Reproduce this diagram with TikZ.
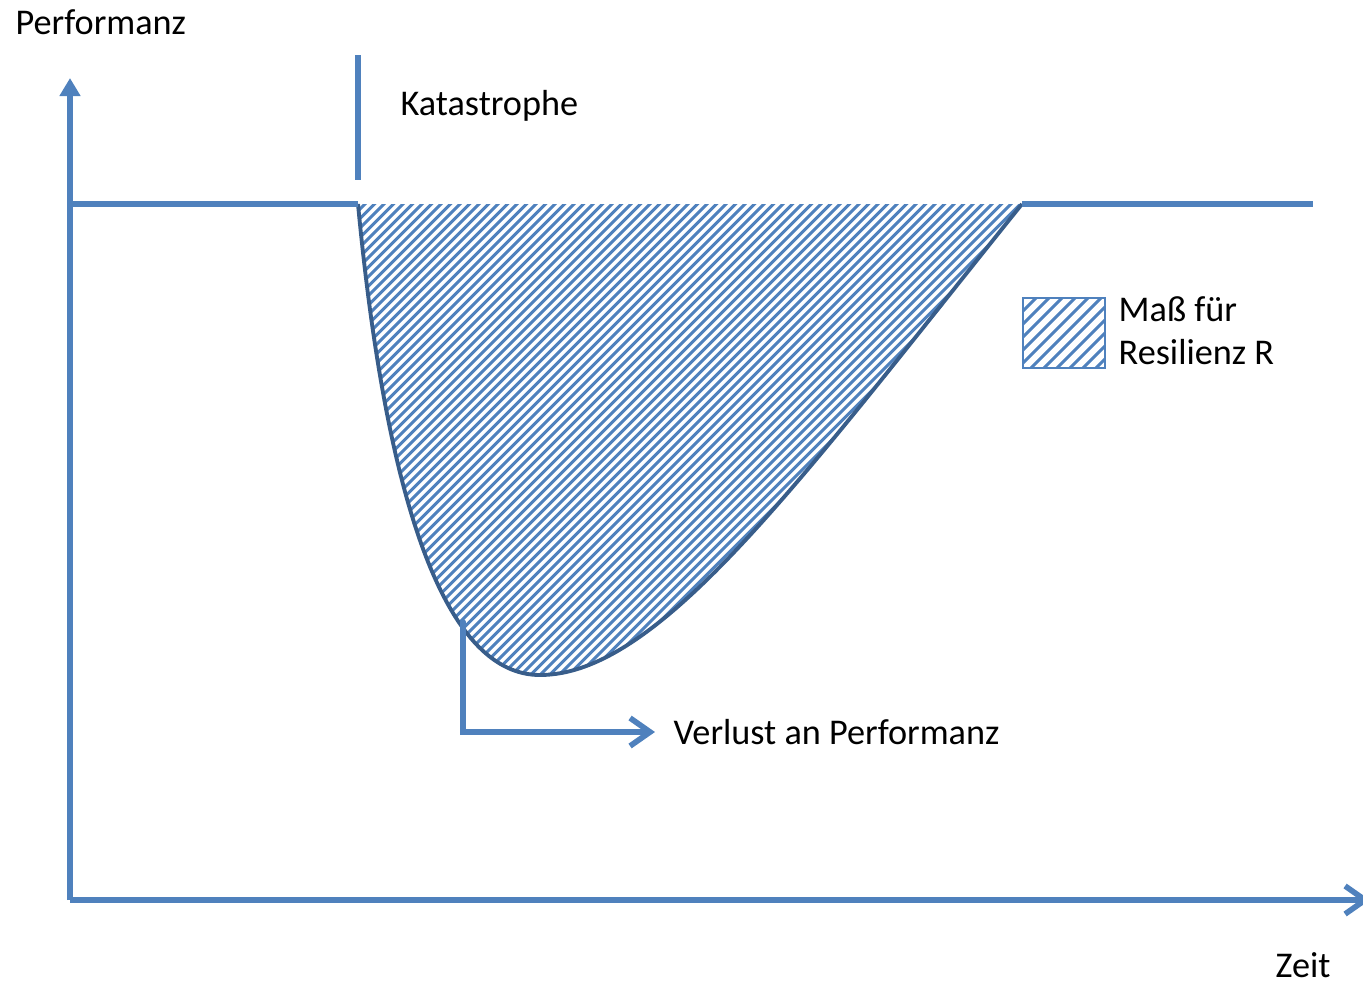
\documentclass[tikz,border=0pt]{standalone}
\usepackage{fontspec}
\setmainfont{Carlito}
\usetikzlibrary{arrows.meta}
\definecolor{achsblau}{RGB}{79,129,189}
\definecolor{kurvblau}{RGB}{56,93,138}

\begin{document}
\begin{tikzpicture}[x=0.01cm,y=-0.01cm,
  achse/.style={line width=1.6pt,achsblau},
  schraffur/.style={line width=0.85pt,achsblau},
  txt/.style={anchor=west,inner sep=0pt,font=\fontsize{10.3}{12.2}\selectfont}]
\useasboundingbox (0,0) rectangle (1363,981);

% Achsen
\coordinate (ursprung) at (70,900);
\coordinate (yspitze) at (70,78);
\coordinate (xspitze) at (1370,900);
\draw[achse,-{Triangle[length=0.18cm,width=0.2cm]}] (ursprung) -- (yspitze);
\draw[achse,-{Straight Barb[length=0.2cm,width=0.28cm]}] (ursprung) -- (xspitze);

\node[txt] (performanz) at (15,22) {Performanz};
\node[txt] (zeit) at (1275,965) {Zeit};

% Katastrophe
\coordinate (kat1) at (358,55);
\coordinate (kat2) at (358,180);
\draw[achse] (kat1) -- (kat2);
\node[txt] (katastrophe) at (400,106) {Katastrophe};

% Schraffierte Flaeche
\def\verlustpfad{(358,204) .. controls (388,520) and (450,675) .. (540,675)
  .. controls (660,675) and (800,480) .. (1022,204)}
\begin{scope}
\clip \verlustpfad -- cycle;
\foreach \i in {350,359.5,...,1540}
  \draw[schraffur] (\i-500,700) -- (\i,200);
\end{scope}
\draw[line width=1.1pt,kurvblau] \verlustpfad;

% Performanzniveau
\coordinate (a1) at (70,204);
\coordinate (a2) at (358,204);
\coordinate (b1) at (1022,204);
\coordinate (b2) at (1313,204);
\draw[achse] (a1) -- (a2);
\draw[achse] (b1) -- (b2);

% Verlust an Performanz
\coordinate (vstart) at (463,622);
\node[txt] (verlust) at (673,732) {Verlust an Performanz};
\draw[achse,line cap=round,-{Straight Barb[length=0.2cm,width=0.28cm]},shorten >=0.18cm]
  (vstart) |- (verlust.west);

% Legende
\begin{scope}
\clip (1023,298) rectangle (1105,368);
\foreach \i in {1023,1036,...,1200}
  \draw[schraffur] (\i-100,398) -- (\i,298);
\end{scope}
\draw[line width=0.5pt,achsblau] (1023,298) rectangle (1105,368);
\node[txt,align=left] (legende) at (1118,331) {Maß für\\Resilienz R};
\end{tikzpicture}
\end{document}
